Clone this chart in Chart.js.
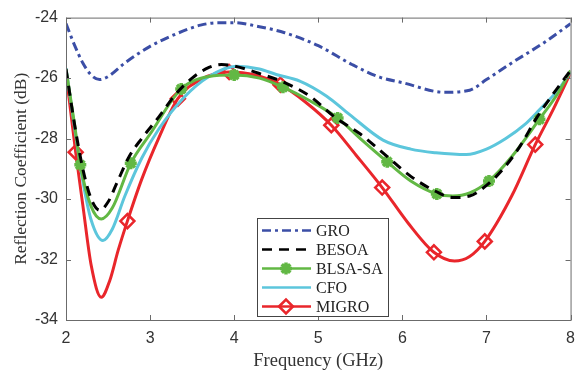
<!DOCTYPE html>
<html>
<head>
<meta charset="utf-8">
<script src="https://cdn.jsdelivr.net/npm/chart.js@4.4.0/dist/chart.umd.min.js"></script>
<style>
  html, body { margin: 0; padding: 0; background: #fff; }
  #wrap { width: 584px; height: 376px; }
</style>
</head>
<body>
<div id="wrap"><canvas id="chart" width="584" height="376"></canvas></div>
<script>
// x ticks / y ticks
const xTicks = [2, 3, 4, 5, 6, 7, 8];
const yTicks = [-34, -32, -30, -28, -26, -24];

// GRO
const freqGRO = [2, 2.1, 2.2, 2.3, 2.4, 2.5, 2.7, 3.0, 3.3, 3.6, 3.8, 4.0, 4.3, 4.6, 5.0, 5.4, 5.73, 6.0, 6.5, 6.8, 7.0, 7.3, 7.7, 8];
const gro = [-24.2, -24.9, -25.5, -25.9, -26.05, -25.95, -25.5, -24.95, -24.55, -24.25, -24.17, -24.17, -24.3, -24.5, -24.93, -25.55, -25.97, -26.15, -26.47, -26.4, -26.05, -25.5, -24.8, -24.2];

// BESOA
const freqBESOA = [2, 2.1, 2.2, 2.3, 2.4, 2.5, 2.6, 2.75, 2.9, 3.1, 3.3, 3.5, 3.7, 3.85, 4.0, 4.3, 4.6, 4.9, 5.2, 5.5, 5.8, 6.1, 6.4, 6.6, 6.8, 7.0, 7.2, 7.4, 7.6, 7.8, 8];
const besoa = [-25.7, -27.5, -29.0, -30.0, -30.37, -30.1, -29.5, -28.6, -28.0, -27.3, -26.55, -26.0, -25.65, -25.55, -25.6, -25.85, -26.15, -26.6, -27.3, -27.85, -28.55, -29.25, -29.75, -29.95, -29.9, -29.55, -29.0, -28.25, -27.3, -26.5, -25.75];

// BLSA-SA
const freqBLSA = [2, 2.1, 2.17, 2.3, 2.42, 2.55, 2.77, 3.0, 3.37, 3.7, 4.0, 4.3, 4.58, 4.9, 5.23, 5.5, 5.82, 6.1, 6.41, 6.6, 6.8, 7.03, 7.3, 7.63, 7.85, 8];
const blsa = [-25.7, -27.5, -28.87, -30.25, -30.66, -30.3, -28.82, -27.85, -26.36, -25.95, -25.9, -26.0, -26.3, -26.75, -27.32, -28.0, -28.77, -29.4, -29.83, -29.9, -29.8, -29.4, -28.6, -27.36, -26.5, -25.75];
const blsaMarks = [2.17, 2.77, 3.37, 4.0, 4.58, 5.23, 5.82, 6.41, 7.03, 7.63];

// CFO
const freqCFO = [2, 2.1, 2.2, 2.3, 2.44, 2.55, 2.7, 2.9, 3.1, 3.4, 3.7, 4.03, 4.3, 4.5, 4.78, 5.1, 5.37, 5.77, 6.1, 6.4, 6.76, 7.0, 7.23, 7.45, 7.63, 7.85, 8];
const cfo = [-25.67, -27.6, -29.4, -30.7, -31.37, -31.0, -29.9, -28.65, -27.7, -26.65, -25.95, -25.61, -25.7, -25.88, -26.1, -26.6, -27.2, -28.05, -28.35, -28.47, -28.53, -28.35, -28.0, -27.55, -27.05, -26.4, -25.8];

// MIGRO
const freqMIGRO = [2, 2.115, 2.2, 2.3, 2.42, 2.52, 2.62, 2.73, 2.9, 3.1, 3.33, 3.6, 3.94, 4.25, 4.55, 4.85, 5.155, 5.45, 5.76, 6.07, 6.375, 6.62, 6.8, 6.98, 7.3, 7.58, 7.8, 8];
const migro = [-25.83, -28.45, -30.2, -32.2, -33.25, -32.7, -31.7, -30.73, -29.35, -28.0, -26.68, -26.05, -25.8, -25.9, -26.22, -26.8, -27.56, -28.55, -29.62, -30.8, -31.76, -32.05, -31.9, -31.4, -29.9, -28.2, -27.0, -25.83];
const migroMarks = [2.115, 2.73, 3.33, 3.94, 4.55, 5.155, 5.76, 6.375, 6.98, 7.58];

const pts = (xs, ys) => xs.map((x, i) => ({ x: x, y: ys[i] }));
const markAt = (marks, r) => ctx => (ctx.raw && marks.includes(ctx.raw.x)) ? r : 0;

const datasets = [
  {
    label: "GRO", data: pts(freqGRO, gro),
    borderColor: "#3b4ea6", borderWidth: 3, borderDash: [9, 4, 3, 4],
    pointRadius: 0
  },
  {
    label: "BESOA", data: pts(freqBESOA, besoa),
    borderColor: "#000000", borderWidth: 3, borderDash: [10, 7],
    pointRadius: 0
  },
  {
    label: "BLSA-SA", data: pts(freqBLSA, blsa),
    borderColor: "#62b844", borderWidth: 3,
    pointStyle: "star", pointRadius: markAt(blsaMarks, 6),
    pointBorderColor: "#62b844", pointBackgroundColor: "#62b844", pointBorderWidth: 3.5
  },
  {
    label: "CFO", data: pts(freqCFO, cfo),
    borderColor: "#5cc6dc", borderWidth: 3,
    pointRadius: 0
  },
  {
    label: "MIGRO", data: pts(freqMIGRO, migro),
    borderColor: "#e9262b", borderWidth: 3,
    pointStyle: "rectRot", pointRadius: markAt(migroMarks, 7),
    pointBorderColor: "#e9262b", pointBackgroundColor: "rgba(255,255,255,0)", pointBorderWidth: 2.5
  }
];
datasets.forEach(d => { d.cubicInterpolationMode = "monotone"; d.fill = false; });

// box + inward ticks (MATLAB style)
const boxPlugin = {
  id: "box",
  afterDatasetsDraw(chart) {
    const { ctx, chartArea: a, scales } = chart;
    ctx.save();
    ctx.strokeStyle = "#6b6b6b";
    ctx.lineWidth = 1;
    ctx.strokeRect(a.left + 0.5, a.top + 0.5, a.right - a.left, a.bottom - a.top);
    ctx.beginPath();
    xTicks.forEach(v => {
      const x = Math.round(scales.x.getPixelForValue(v)) + 0.5;
      ctx.moveTo(x, a.bottom); ctx.lineTo(x, a.bottom - 5);
      ctx.moveTo(x, a.top); ctx.lineTo(x, a.top + 5);
    });
    yTicks.forEach(v => {
      const y = Math.round(scales.y.getPixelForValue(v)) + 0.5;
      ctx.moveTo(a.left, y); ctx.lineTo(a.left + 5, y);
      ctx.moveTo(a.right, y); ctx.lineTo(a.right - 5, y);
    });
    ctx.stroke();
    ctx.restore();
  }
};

// legend box inside the axes
const legendPlugin = {
  id: "boxLegend",
  afterDraw(chart) {
    const { ctx } = chart;
    const x0 = 257, y0 = 218, w = 131, h = 98, step = 19;
    ctx.save();
    ctx.fillStyle = "#fff";
    ctx.fillRect(x0, y0, w, h);
    ctx.strokeStyle = "#444";
    ctx.lineWidth = 1;
    ctx.strokeRect(x0 + 0.5, y0 + 0.5, w, h);
    chart.data.datasets.forEach((d, i) => {
      const y = y0 + 12.5 + i * step;
      ctx.strokeStyle = d.borderColor;
      ctx.lineWidth = 2.6;
      ctx.setLineDash(d.borderDash || []);
      ctx.beginPath();
      ctx.moveTo(x0 + 5, y); ctx.lineTo(x0 + 54, y);
      ctx.stroke();
      ctx.setLineDash([]);
      if (d.pointStyle) {
        ctx.strokeStyle = d.pointBorderColor;
        ctx.fillStyle = d.pointBackgroundColor;
        ctx.lineWidth = d.pointBorderWidth;
        Chart.helpers.drawPoint(ctx, {
          pointStyle: d.pointStyle, radius: d.pointStyle === "star" ? 6 : 7,
          rotation: 0, borderWidth: d.pointBorderWidth
        }, x0 + 29, y);
      }
      ctx.fillStyle = "#222";
      ctx.font = "16px 'Liberation Serif', 'Times New Roman', serif";
      ctx.textBaseline = "middle";
      ctx.fillText(d.label, x0 + 59, y + 1);
    });
    ctx.restore();
  }
};

new Chart(document.getElementById("chart"), {
  type: "line",
  data: { datasets: datasets },
  plugins: [boxPlugin, legendPlugin],
  options: {
    responsive: false,
    animation: false,
    layout: { padding: { top: 8, right: 12, left: 7, bottom: 0 } },
    plugins: { legend: { display: false }, tooltip: { enabled: false } },
    scales: {
      x: {
        type: "linear", min: 2, max: 8,
        afterBuildTicks: s => { s.ticks = xTicks.map(v => ({ value: v })); },
        afterFit: s => { s.height = 56; },
        grid: { display: false, drawTicks: false },
        border: { display: false },
        ticks: { color: "#333", padding: 9, font: { family: "'Liberation Sans', Arial", size: 16 } },
        title: { display: true, text: "Frequency (GHz)", color: "#333", padding: { top: 3 },
                 font: { family: "'Liberation Serif', 'Times New Roman', serif", size: 18.5 } }
      },
      y: {
        type: "linear", min: -34, max: -24,
        afterBuildTicks: s => { s.ticks = yTicks.map(v => ({ value: v })); },
        afterFit: s => { s.width = 59; },
        grid: { display: false, drawTicks: false },
        border: { display: false },
        ticks: { color: "#333", padding: 8, font: { family: "'Liberation Sans', Arial", size: 16 } },
        title: { display: true, text: "Reflection Coefficient (dB)", color: "#333", padding: { bottom: 0 },
                 font: { family: "'Liberation Serif', 'Times New Roman', serif", size: 17.5 } }
      }
    }
  }
});
</script>
</body>
</html>
